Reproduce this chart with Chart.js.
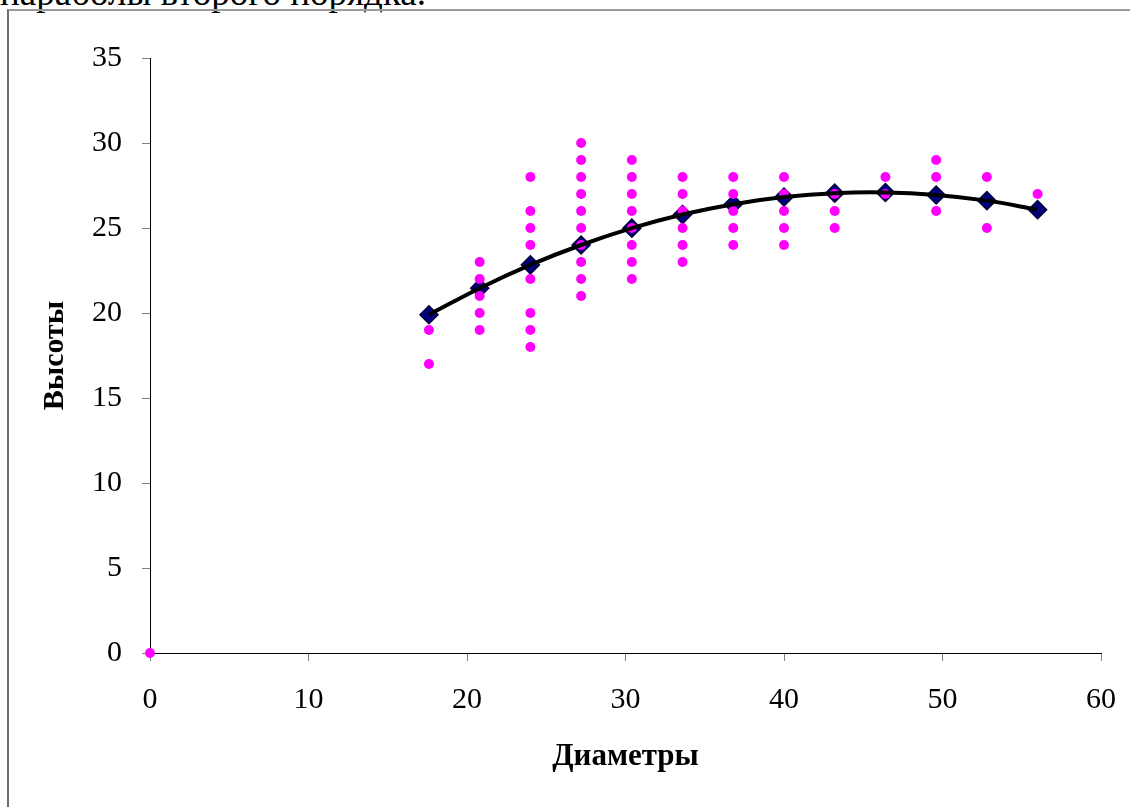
<!DOCTYPE html>
<html>
<head>
<meta charset="utf-8">
<script src="https://cdn.jsdelivr.net/npm/chart.js@4/dist/chart.umd.min.js"></script>
<style>
  html, body { margin: 0; padding: 0; background: #fff; overflow: hidden; }
  #wrap { position: relative; width: 1130px; height: 807px; }
  #caption { position: absolute; left: 0px; top: -26px; font-family: 'Liberation Serif', 'Times New Roman', serif; font-size: 37px; line-height: 37px; color: #000; white-space: nowrap; }
  #frame { position: absolute; left: 7px; top: 9px; width: 1200px; height: 900px; border-left: 2px solid #6e6e6e; border-top: 2px solid #9a9a9a; }
  canvas { position: absolute; left: 0; top: 0; }
</style>
</head>
<body>
<div id="wrap">
  <div id="caption">параболы второго порядка.</div>
  <div id="frame"></div>
  <canvas id="c" width="1130" height="807"></canvas>
</div>
<script>
// Diameters (x positions of the columns)
const diameters = [17.6, 20.8, 24.0, 27.2, 30.4, 33.6, 36.8, 40.0, 43.2, 46.4, 49.6, 52.8, 56.0];
// Observed heights for each diameter column
const observedHeights = [
  [17, 19],
  [19, 20, 21, 22, 23],
  [18, 19, 20, 22, 24, 25, 26, 28],
  [21, 22, 23, 24, 25, 26, 27, 28, 29, 30],
  [22, 23, 24, 25, 26, 27, 28, 29],
  [23, 24, 25, 26, 27, 28],
  [24, 25, 26, 27, 28],
  [24, 25, 26, 27, 28],
  [25, 26, 27],
  [27, 28],
  [26, 28, 29],
  [25, 28],
  [27]
];
// Extra observed point at the origin
const originPoint = [0, 0];
// Heights on the second-order parabola (diamond markers)
const fittedHeights = [19.9, 21.46, 22.83, 24.0, 24.99, 25.79, 26.4, 26.82, 27.05, 27.09, 26.94, 26.61, 26.08];
// Axis settings
const xTicks = [0, 10, 20, 30, 40, 50, 60];
const yTicks = [0, 5, 10, 15, 20, 25, 30, 35];
const xTitle = 'Диаметры';
const yTitle = 'Высоты';

const observedPoints = [{x: originPoint[0], y: originPoint[1]}];
diameters.forEach((d, i) => observedHeights[i].forEach(h => observedPoints.push({x: d, y: h})));
const fittedPoints = diameters.map((d, i) => ({x: d, y: fittedHeights[i]}));

Chart.defaults.font.family = "'Liberation Serif', 'Times New Roman', serif";
Chart.defaults.color = '#000';

new Chart(document.getElementById('c'), {
  type: 'scatter',
  data: {
    datasets: [
      {
        type: 'line',
        data: fittedPoints,
        borderColor: '#000',
        borderWidth: 4,
        pointRadius: 0,
        tension: 0.4,
        fill: false,
        order: 0
      },
      {
        data: observedPoints,
        backgroundColor: '#FF00FF',
        borderColor: '#FF00FF',
        borderWidth: 0,
        pointRadius: 5,
        clip: false,
        order: 1
      },
      {
        data: fittedPoints,
        pointStyle: 'rectRot',
        backgroundColor: '#000080',
        borderColor: '#000033',
        borderWidth: 1.5,
        pointRadius: 9,
        order: 2
      }
    ]
  },
  options: {
    responsive: false,
    animation: false,
    events: [],
    layout: { padding: { top: 58, right: 29, left: 0, bottom: 0 } },
    plugins: { legend: { display: false }, tooltip: { enabled: false } },
    scales: {
      x: {
        type: 'linear',
        min: xTicks[0],
        max: xTicks[xTicks.length - 1],
        afterFit: s => { s.height = 154; s.paddingRight = 0; s.paddingLeft = 0; },
        afterBuildTicks: s => { s.ticks = xTicks.map(v => ({value: v})); },
        ticks: { font: { size: 30 }, padding: 21, maxRotation: 0 },
        grid: { drawOnChartArea: false, drawTicks: true, tickLength: 8, tickColor: '#808080' },
        border: { color: '#000', width: 1 },
        title: { display: true, text: xTitle, font: { size: 31, weight: 'bold' }, padding: { top: 0, bottom: 31 } }
      },
      y: {
        type: 'linear',
        min: yTicks[0],
        max: yTicks[yTicks.length - 1],
        afterFit: s => { s.width = 150; s.paddingTop = 0; s.paddingBottom = 0; },
        afterBuildTicks: s => { s.ticks = yTicks.map(v => ({value: v})); },
        ticks: { font: { size: 30 }, padding: 20 },
        grid: { drawOnChartArea: false, drawTicks: true, tickLength: 8, tickColor: '#808080' },
        border: { color: '#000', width: 1 },
        title: { display: true, text: yTitle, font: { size: 30, weight: 'bold' }, padding: { top: 37, bottom: 0 } }
      }
    }
  }
});
</script>
</body>
</html>
